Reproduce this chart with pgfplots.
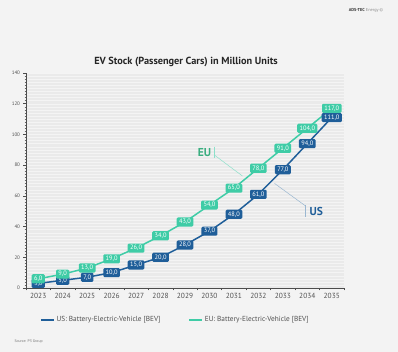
\documentclass[border=0pt]{standalone}
\usepackage{fontspec}
\setmainfont{PT Sans}
\usepackage{pgfplots}
\pgfplotsset{compat=1.18}
\definecolor{usblue}{HTML}{1F5E99}
\definecolor{eugreen}{HTML}{3FCCA6}
\definecolor{eutext}{HTML}{3AAE80}
\definecolor{bgc}{HTML}{F3F3F3}
\definecolor{plotbg}{HTML}{EAEAEA}
\definecolor{txt}{HTML}{505050}
\begin{document}
\begin{tikzpicture}
\fill[bgc] (0,0) rectangle (398pt,352pt);
\node[font=\bfseries\fontsize{10.3}{11}\selectfont, text=black!85] at (186pt,290pt) {EV Stock (Passenger Cars) in Million Units};
\node[font=\fontsize{4.3}{5}\selectfont, text=black!80] at (366pt,342pt) {\textbf{ADS-TEC} \textcolor{black!45}{Energy \textcopyright}};
\node[font=\fontsize{3.8}{4}\selectfont, text=black!55, anchor=west] at (11pt,10.5pt) {Source: P3 Group};
\begin{axis}[
  at={(26pt,64pt)}, anchor=south west, scale only axis,
  width=318pt, height=215pt,
  xmin=-0.5, xmax=12.5, ymin=0, ymax=140,
  axis background/.style={fill=plotbg},
  axis x line*=bottom, axis y line*=left,
  axis line style={draw=black!70, line width=0.6pt},
  xtick={-0.5,0.5,...,12.5},
  x tick label as interval,
  xticklabels={2023,2024,2025,2026,2027,2028,2029,2030,2031,2032,2033,2034,2035},
  ytick={0,20,...,140},
  minor y tick num=9,
  tick align=outside,
  major tick length=2.5pt, minor tick length=1.5pt,
  tick style={draw=black!70, line width=0.5pt},
  minor tick style={draw=black!60, line width=0.4pt},
  ymajorgrids, yminorgrids,
  major grid style={draw=white!50!plotbg, line width=0.35pt},
  minor grid style={draw=white!50!plotbg, line width=0.35pt},
  /pgf/number format/assume math mode=true,
  x tick label style={font=\fontsize{7.4}{8}\selectfont, text=txt, yshift=1pt},
  y tick label style={font=\fontsize{5}{5}\selectfont, text=txt},
  clip=false,
  legend style={at={(0.47,-0.149)}, anchor=center, draw=none, fill=none,
    font=\fontsize{7.3}{8}\selectfont, text=txt, legend columns=2,
    /tikz/every even column/.append style={column sep=26pt}},
  legend image code/.code={\draw[#1, line width=1.5pt] (0pt,0pt) -- (13pt,0pt);},
  nodes near coords={\pgfmathprintnumber[fixed,fixed zerofill,precision=1,use comma,assume math mode=true]{\pgfplotspointmeta}},
]
\addplot[usblue, line width=1.5pt, mark=none,
  nodes near coords style={anchor=center, fill=usblue, text=white, rounded corners=1.2pt,
    inner xsep=2.4pt, inner ysep=1.8pt, font=\fontsize{6.4}{6.4}\selectfont}]
  coordinates {(0,3) (1,5) (2,7) (3,10) (4,15) (5,20) (6,28) (7,37) (8,48) (9,61) (10,77) (11,94) (12,111)};
\addlegendentry{US: Battery-Electric-Vehicle [BEV]}
\addplot[eugreen, line width=1.5pt, mark=none,
  nodes near coords style={anchor=center, fill=eugreen, text=white, rounded corners=1.2pt,
    inner xsep=2.4pt, inner ysep=1.8pt, font=\fontsize{6.4}{6.4}\selectfont}]
  coordinates {(0,6) (1,9) (2,13) (3,19) (4,26) (5,34) (6,43) (7,54) (8,65) (9,78) (10,91) (11,104) (12,117)};
\addlegendentry{EU: Battery-Electric-Vehicle [BEV]}
% annotations
\draw[eugreen!60, line width=0.5pt] (axis cs:7.2,92) -- (axis cs:7.2,84.6);
\draw[eugreen!60, line width=0.5pt] (axis cs:7.2,86.6) -- (axis cs:8.35,72.9);
\node[anchor=east, text=eutext, font=\bfseries\fontsize{11.5}{12}\selectfont, inner sep=1pt] at (axis cs:7.12,88.2) {EU};
\draw[usblue!45, line width=0.5pt] (axis cs:9.66,68.1) -- (axis cs:10.93,53.4);
\draw[usblue!45, line width=0.5pt] (axis cs:10.93,54) -- (axis cs:10.93,46);
\node[anchor=west, text=usblue, font=\bfseries\fontsize{11.5}{12}\selectfont, inner sep=1pt] at (axis cs:11.05,49.8) {US};
\end{axis}
\end{tikzpicture}
\end{document}
